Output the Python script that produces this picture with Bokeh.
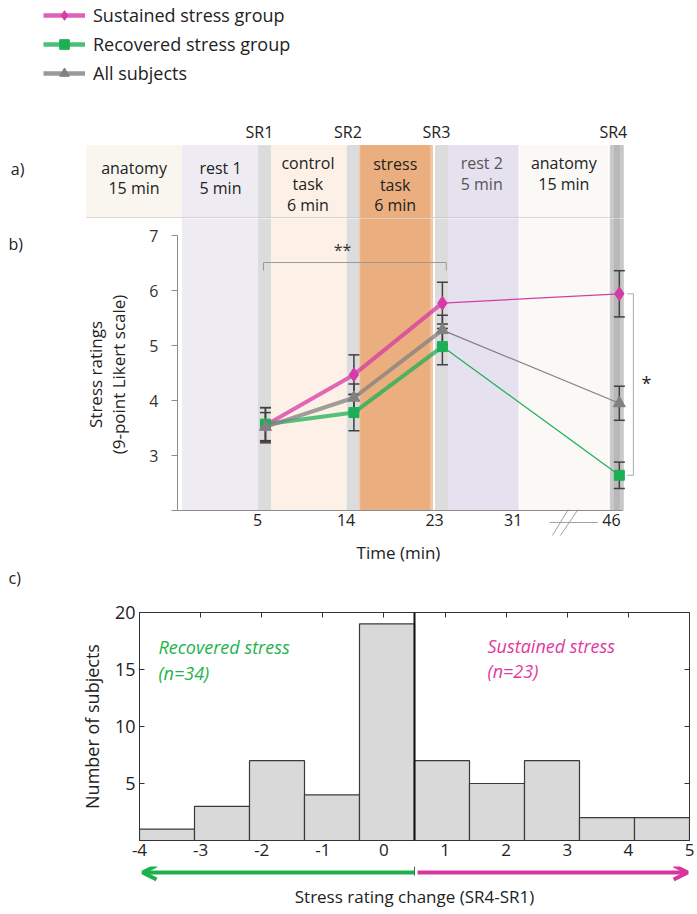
import math
from bokeh.plotting import figure
from bokeh.models import (Range1d, LinearAxis, FixedTicker, Legend, LegendItem, Whisker,
                          ColumnDataSource, Arrow, OpenHead, TeeHead, Span)
from bokeh.layouts import column, row
from bokeh.embed import file_html
from bokeh.resources import INLINE
from bokeh.core.properties import value

# ---------------- data ----------------
rating_labels = ["SR1", "SR2", "SR3", "SR4"]
rating_times = [5, 14, 23, 46]
axis_times = [5, 14, 23, 31, 46]
y_ticks = [2, 3, 4, 5, 6, 7]

sustained_mean = [3.55, 4.47, 5.77, 5.94]
sustained_err = [0.32, 0.36, 0.38, 0.42]
recovered_mean = [3.57, 3.78, 4.98, 2.64]
recovered_err = [0.30, 0.33, 0.33, 0.24]
all_mean = [3.52, 4.05, 5.28, 3.95]
all_err = [0.26, 0.25, 0.27, 0.31]

phase_names = ["anatomy\n15 min", "rest 1\n5 min", "control\ntask\n6 min",
               "stress\ntask\n6 min", "rest 2\n5 min", "anatomy\n15 min"]
phase_start = [-13.2, -3.44, 5.51, 14.4, 23.3, 30.9]
phase_end = [-3.54, 4.29, 13.13, 22.0, 30.7, 39.8]
phase_colors = ["#F9F6F0", "#EEEBF3", "#FDF0E6", "#F2C6A2", "#E5E1EE", "#FAF9F6"]
phase_text_colors = ["#222222", "#222222", "#222222", "#222222", "#555555", "#222222"]
phase_label_y = [8.045, 8.045, 7.936, 7.927, 8.127, 8.127]

change_edges = [-4, -3.1, -2.2, -1.3, -0.4, 0.5, 1.4, 2.3, 3.2, 4.1, 5.0]
change_counts = [1, 3, 7, 4, 19, 7, 5, 7, 2, 2]
change_ticks = [-4, -3, -2, -1, 0, 1, 2, 3, 4, 5]
count_ticks = [5, 10, 15, 20]
group_split = 0.5

FONT = "Open Sans"
MAG = "#D63AA6"
GRN = "#1DAF55"
GRY = "#808080"
TXT = "#222222"


def pos(t):
    # broken time axis: compress after 31 min
    return t if t <= 31 else 31 + (t - 31) * (10.0 / 15.0)


x_pos = [pos(t) for t in rating_times]
groups = [
    ("Sustained stress group", sustained_mean, sustained_err, MAG, "diamond", 14),
    ("Recovered stress group", recovered_mean, recovered_err, GRN, "square", 10),
    ("All subjects", all_mean, all_err, GRY, "triangle", 12),
]

PX, X0 = 9.83, 215.8          # px per minute, px of t=0
W = 697
band_bottom, band_top, table_line = 2.0, 8.636, 7.309
SPLIT = 218                   # px where panel a ends and panel b starts


def v_of(py):
    return 7 + (235 - py) / 55.0


def bare(fig):
    fig.outline_line_color = None
    fig.xgrid.visible = False
    fig.ygrid.visible = False
    return fig


def draw_bands(fig, bottom):
    fig.quad(left=phase_start[1:], right=phase_end[1:], bottom=bottom, top=band_top,
             color=phase_colors[1:], level="image")
    fig.quad(left=[phase_start[3] + 0.3], right=[phase_end[3] - 0.3], bottom=bottom,
             top=band_top, color="#EBAF7F", level="image")
    fig.quad(left=[x - 0.7 for x in x_pos[:3]], right=[x + 0.5 for x in x_pos[:3]],
             bottom=bottom, top=band_top, color="#DCDCDC", level="image")
    fig.quad(left=[x_pos[3] - 0.92], right=[x_pos[3] + 0.4], bottom=bottom, top=band_top,
             color="#C8C8C8", level="image")
    fig.quad(left=[x_pos[3] - 0.5], right=[x_pos[3] + 0.0], bottom=bottom, top=band_top,
             color="#B8B8B8", level="image")


# ---------------- A: legend + protocol table ----------------
A = bare(figure(width=W, height=SPLIT, x_range=Range1d(-X0 / PX, (W - X0) / PX),
                y_range=Range1d(v_of(SPLIT), v_of(0)), output_backend="svg",
                toolbar_location=None, x_axis_location=None, y_axis_location=None,
                min_border=0))
draw_bands(A, 7.0)
A.quad(left=phase_start[:1], right=phase_end[:1], bottom=table_line, top=band_top,
       color=phase_colors[0], level="image")
A.segment(x0=[phase_start[0]], x1=[x_pos[3] - 0.1], y0=[table_line + 0.01],
          y1=[table_line + 0.01], line_color="#BDBDBD", line_width=1)
A.text(x=[(a + b) / 2 for a, b in zip(phase_start, phase_end)], y=phase_label_y,
       text=phase_names, text_align="center", text_baseline="middle",
       text_font=value(FONT), text_font_size="16px", text_line_height=0.95,
       text_color=phase_text_colors)
A.text(x=x_pos, y=[8.873] * 4, text=rating_labels, x_offset=-6, text_align="center",
       text_baseline="middle", text_font=value(FONT), text_font_size="16px", text_color=TXT)
A.text(x=[-20.9], y=[8.218], text=["a)"], text_align="left", text_baseline="middle",
       text_font=value(FONT), text_font_size="16px", text_color=TXT)
legend_items = []
for name, mean, err, col, mk, sz in groups:
    lr = A.line(x_pos[:3], mean[:3], line_color=col, line_width=4.5, line_alpha=0.8)
    mr = A.scatter(x_pos, mean, marker=mk, size=sz, fill_color=col, line_color=col)
    legend_items.append(LegendItem(label=name, renderers=[lr, mr]))
A.add_layout(Legend(items=legend_items, location=(43, SPLIT - 85), padding=0, margin=0,
                    spacing=5, glyph_width=42, glyph_height=24, label_height=24,
                    label_standoff=8, label_text_font=FONT, label_text_font_size="18px",
                    label_text_color=TXT, border_line_color=None, background_fill_alpha=0))

# ---------------- B1: side labels ----------------
BH = 565 - SPLIT
B1 = bare(figure(width=145, height=BH, x_range=Range1d(0, 145), y_range=Range1d(BH, 0),
                 output_backend="svg", toolbar_location=None, x_axis_location=None,
                 y_axis_location=None, min_border=0))
B1.text(x=[8], y=[243 - SPLIT], text=["b)"], text_align="left", text_baseline="middle",
        text_font=value(FONT), text_font_size="16px", text_color=TXT)
B1.text(x=[95, 118], y=[374 - SPLIT] * 2, text=["Stress ratings", "(9-point Likert scale)"],
        angle=math.pi / 2, text_align="center", text_baseline="middle",
        text_font=value(FONT), text_font_size="17px", text_color=TXT)

# ---------------- B2: stress ratings ----------------
B2 = bare(figure(width=W - 145, height=BH, x_range=Range1d((177 - X0) / PX, (W - X0) / PX),
                 y_range=Range1d(v_of(565), v_of(SPLIT)), output_backend="svg",
                 toolbar_location=None, x_axis_location=None, y_axis_location=None,
                 min_border=0, min_border_left=32))
draw_bands(B2, band_bottom)
for name, mean, err, col, mk, sz in groups:
    src = ColumnDataSource(dict(x=x_pos, upper=[m + e for m, e in zip(mean, err)],
                                lower=[m - e for m, e in zip(mean, err)]))
    B2.add_layout(Whisker(base="x", upper="upper", lower="lower", source=src,
                          line_color="#404040", line_width=1.5, level="underlay",
                          upper_head=TeeHead(size=11, line_color="#404040", line_width=1.5),
                          lower_head=TeeHead(size=11, line_color="#404040", line_width=1.5)))
for name, mean, err, col, mk, sz in groups:
    B2.line(x_pos[:3], mean[:3], line_color=col, line_width=4, line_alpha=0.75)
    B2.line(x_pos[2:], mean[2:], line_color=col, line_width=1.2)
    B2.scatter(x_pos, mean, marker=mk, size=sz, fill_color=col, line_color=col)

B2.line(x=[x_pos[0] - 0.2, x_pos[0] - 0.2, x_pos[2] + 0.4, x_pos[2] + 0.4],
        y=[6.364, 6.509, 6.509, 6.364], line_color="#9A9A9A", line_width=1)
B2.text(x=[12.84], y=[6.73], text=["**"], text_align="center", text_baseline="middle",
        text_font=value(FONT), text_font_size="16px", text_color="#333333")
B2.line(x=[41.8, 42.43, 42.43, 41.8],
        y=[sustained_mean[3], sustained_mean[3], recovered_mean[3], recovered_mean[3]],
        line_color="#AAAAAA", line_width=1)
B2.text(x=[43.75], y=[4.31], text=["*"], text_align="center", text_baseline="middle",
        text_font=value(FONT), text_font_size="18px", text_color=TXT)
B2.segment(x0=[33.9, 34.2, 35.0], y0=[1.782, 1.545, 1.545],
           x1=[38.8, 35.8, 36.8], y1=[1.782, 2.018, 2.018], line_color="#A0A0A0", line_width=1)
B2.text(x=[18.53], y=[1.236], text=["Time (min)"], text_align="center",
        text_baseline="middle", text_font=value(FONT), text_font_size="17px", text_color=TXT)

B2.add_layout(LinearAxis(bounds=(2, 7), ticker=FixedTicker(ticks=y_ticks),
                         major_label_overrides={2: ""}, major_tick_out=6, major_tick_in=0,
                         minor_tick_out=0, minor_tick_in=0, axis_line_color="#8C8C8C",
                         major_tick_line_color="#8C8C8C", major_label_text_font=FONT,
                         major_label_text_font_size="16px", major_label_text_color="#333333",
                         major_label_standoff=13), "left")
label_shift = 0.8
xt = [pos(t) - label_shift for t in axis_times]
B2.add_layout(LinearAxis(fixed_location=2, bounds=((177 - X0) / PX, 41.3),
                         ticker=FixedTicker(ticks=xt),
                         major_label_overrides={k: str(t) for k, t in zip(xt, axis_times)},
                         major_tick_out=0, major_tick_in=0, minor_tick_out=0, minor_tick_in=0,
                         axis_line_color="#8C8C8C", major_label_text_font=FONT,
                         major_label_text_font_size="16px", major_label_text_color=TXT,
                         major_label_standoff=3), "below")

# ---------------- C0: panel tag ----------------
C0H = 23
C0 = bare(figure(width=W, height=C0H, x_range=Range1d(0, W), y_range=Range1d(C0H, 0),
                 output_backend="svg", toolbar_location=None, x_axis_location=None,
                 y_axis_location=None, min_border=0))
C0.text(x=[8], y=[12], text=["c)"], text_align="left", text_baseline="middle",
        text_font=value(FONT), text_font_size="16px", text_color=TXT)

# ---------------- hist ----------------
hist = figure(width=W, height=278, x_range=Range1d(-4, 5), y_range=Range1d(0, 20),
              output_backend="svg", toolbar_location=None, min_border_left=139,
              min_border_right=8, min_border_top=24, min_border_bottom=26,
              x_axis_location=None, y_axis_location=None)
hist.xgrid.visible = False
hist.ygrid.visible = False
hist.outline_line_color = "#333333"
hist.quad(left=change_edges[:-1], right=change_edges[1:], bottom=0, top=change_counts,
          fill_color="#D9D9D9", line_color="#3A3A3A", line_width=1.2)
hist.add_layout(Span(location=group_split, dimension="height", line_color="#111111",
                     line_width=2))

common = dict(axis_line_color="#333333", major_tick_line_color="#333333",
              minor_tick_out=0, minor_tick_in=0, major_tick_out=0,
              major_label_text_font=FONT, major_label_text_color=TXT)
hist.add_layout(LinearAxis(ticker=FixedTicker(ticks=change_ticks), major_tick_in=0,
                           major_label_overrides={t: str(t) for t in change_ticks},
                           major_label_text_font_size="17px", major_label_standoff=3,
                           **common), "below")
hist.add_layout(LinearAxis(ticker=FixedTicker(ticks=count_ticks), major_tick_in=5,
                           major_label_text_font_size="18px", major_label_standoff=4,
                           axis_label="Number of subjects", axis_label_text_font=FONT,
                           axis_label_text_font_size="18px", axis_label_text_font_style="normal",
                           axis_label_text_color=TXT, axis_label_standoff=8, **common), "left")
hist.add_layout(LinearAxis(ticker=FixedTicker(ticks=count_ticks[:-1]), major_tick_in=5,
                           major_label_overrides={t: "" for t in count_ticks[:-1]},
                           major_label_text_font_size="8px", major_label_standoff=0,
                           **common), "right")
hist.add_layout(LinearAxis(ticker=FixedTicker(ticks=change_ticks[1:-1]), major_tick_in=5,
                           major_label_overrides={t: "" for t in change_ticks[1:-1]},
                           major_label_text_font_size="8px", major_label_standoff=0,
                           **common), "above")
hist.text(x=[-3.69, -3.69], y=[16.93, 14.65], text=["Recovered stress", "(n=34)"],
          text_align="left", text_baseline="middle", text_font=value(FONT),
          text_font_size="18px", text_font_style="italic", text_color="#22B24C")
hist.text(x=[1.695, 1.695], y=[17.1, 14.9], text=["Sustained  stress", "(n=23)"],
          text_align="left", text_baseline="middle", text_font=value(FONT),
          text_font_size="18px", text_font_style="italic", text_color="#E03AA0")

# ---------------- C2: group arrows + x label ----------------
HX = 550 / 9.0
C2 = bare(figure(width=W, height=46, x_range=Range1d(-4 - 139 / HX, -4 + (W - 139) / HX),
                 y_range=Range1d(46, 0), output_backend="svg", toolbar_location=None,
                 x_axis_location=None, y_axis_location=None, min_border=0))
C2.add_layout(Arrow(start=None, end=OpenHead(size=14, line_color="#1CB14C", line_width=4),
                    x_start=group_split, y_start=6, x_end=-3.95, y_end=6,
                    line_color="#1CB14C", line_width=4))
C2.add_layout(Arrow(start=None, end=OpenHead(size=14, line_color="#D9359F", line_width=4),
                    x_start=group_split + 0.05, y_start=6, x_end=4.97, y_end=6,
                    line_color="#D9359F", line_width=4))
C2.segment(x0=[group_split], x1=[group_split], y0=[0], y1=[9], line_color="#555555",
           line_width=1)
C2.text(x=[(change_edges[0] + change_edges[-1]) / 2], y=[30],
        text=["Stress rating change (SR4-SR1)"], text_align="center", text_baseline="middle",
        text_font=value(FONT), text_font_size="17px", text_color=TXT)

layout = column(row(A), row(B1, B2, spacing=0), row(C0), row(hist), row(C2), spacing=0)
open("out.html", "w").write(file_html(layout, INLINE))
